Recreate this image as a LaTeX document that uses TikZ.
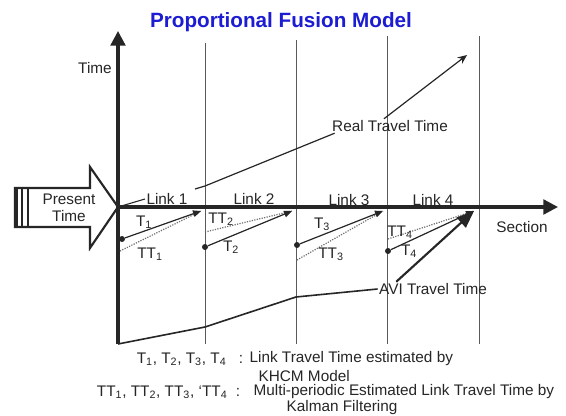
\documentclass[tikz,border=0pt]{standalone}
\usepackage{fontspec}
\setmainfont{Liberation Sans}
\usetikzlibrary{arrows.meta, calc}
\definecolor{titleblue}{HTML}{1C1CD2}
\definecolor{ink}{HTML}{262626}
\definecolor{gridgray}{HTML}{5A5A5A}
\definecolor{dotgray}{HTML}{6E6E6E}
\newcommand{\tsub}[1]{T\textsubscript{#1}}
\newcommand{\ttsub}[1]{TT\textsubscript{#1}}

\begin{document}
\begin{tikzpicture}[x=0.75pt, y=-0.75pt,
  >={Triangle[length=11pt, width=11pt]},
  lbl/.style={font=\fontsize{11.5}{12.8}\selectfont, text=ink, inner sep=1pt},
  secline/.style={gridgray, line width=0.7pt},
  tline/.style={ink, line width=0.9pt, -{Triangle[length=6pt, width=5pt]}},
  ttline/.style={dotgray, line width=0.9pt, densely dotted},
  startdot/.style={circle, fill=ink, inner sep=0pt, minimum size=4.5pt}]

% Canvas
\fill[white] (0,0) rectangle (566,416);
\useasboundingbox (0,0) rectangle (566,416);

% Title
\node[font=\fontsize{15.5}{18}\selectfont\bfseries, text=titleblue] (title) at (281,22)
  {Proportional Fusion Model};

% Section boundaries
\foreach \x/\t in {205/43, 296/40, 387/36, 479/36}
  \draw[secline] (\x,\t) -- (\x,344);

% Axes
\coordinate (O) at (118,207);
\coordinate (tbot) at (118,344);
\coordinate (ttop) at (118,31);
\coordinate (send) at (558,207);
\draw[->, ink, line width=2.4pt] (tbot) -- (ttop);
\draw[->, ink, line width=2.4pt] (O) -- (send);
\node[lbl] (time) at (95,68) {Time};
\node[lbl] (section) at (522,227) {Section};

% Present time arrow
\draw[ink, line width=1.6pt, line join=miter] (15,188) -- (90,188) -- (90,167) -- (O)
  -- (90,248) -- (90,227) -- (15,227) -- cycle;
\draw[ink, line width=1.6pt] (17,188) -- (17,227);
\draw[ink, line width=1.0pt] (22,188) -- (22,227);
\draw[ink, line width=1.6pt] (28,188) -- (28,227);
\node[lbl, align=center] (present) at (69,208) {Present\\Time};

% Link labels
\node[lbl] (link1) at (167,199) {Link 1};
\node[lbl] (link2) at (254,199) {Link 2};
\node[lbl] (link3) at (349,200) {Link 3};
\node[lbl] (link4) at (433,200) {Link 4};
\draw[ink, line width=0.8pt] (O) -- (link1.west);

% Link ends on the section axis
\coordinate (j1) at (201,211);
\coordinate (j2) at (292,211);
\coordinate (j3) at (383,211);
\coordinate (j4) at (474,211);

% KHCM estimates T (solid) and Kalman estimates TT (dotted)
\node[startdot] (d1) at (122,239) {};
\node[startdot] (d2) at (205,247) {};
\node[startdot] (d3) at (297,245) {};
\node[startdot] (d4) at (388,251) {};
\coordinate (s1) at (120,251);
\coordinate (s2) at (205,232);
\coordinate (s3) at (297,260);
\coordinate (s4) at (388,239);
\draw[ttline] (s1) -- (j1);
\draw[ttline] (s2) -- (j2);
\draw[ttline] (s3) -- (j3);
\draw[ttline] (s4) -- (j4);
\draw[tline] (d1) -- (j1);
\draw[tline] (d2) -- (j2);
\draw[tline] (d3) -- (j3);
\draw[tline] (d4) -- (j4);

\node[lbl] (t1) at (144,222) {\tsub1};
\node[lbl] (tt1) at (150,254) {\ttsub1};
\node[lbl] (tt2) at (221,219) {\ttsub2};
\node[lbl] (t2) at (231,247) {\tsub2};
\node[lbl] (t3) at (322,224) {\tsub3};
\node[lbl] (tt3) at (331,254) {\ttsub3};
\node[lbl] (tt4) at (400,232) {\ttsub4};
\node[lbl] (t4) at (409,251) {\tsub4};

% Real travel time
\node[lbl] (real) at (390,126) {Real Travel Time};
\coordinate (r0) at (195,189);
\coordinate (r1) at (205,186);
\coordinate (rtip) at (467,55);
\draw[ink, line width=0.9pt] (r0) -- (r1) -- ([xshift=3pt]real.south west);
\draw[ink, line width=0.9pt, -{Stealth[length=7pt, width=6pt]}]
  ([xshift=40pt]real.north west) -- (rtip);

% AVI travel time
\node[lbl] (avi) at (433,289) {AVI Travel Time};
\draw[ink, line width=1.2pt] (tbot) -- (205,327) -- (296,297) -- (avi.west);
\draw[ink, line width=1.6pt, -{Triangle[length=13pt, width=10pt]}]
  ([xshift=14pt]avi.north west) -- (j4);

% Legend
\node[lbl, anchor=east] (leg1) at (228,359) {\tsub1, \tsub2, \tsub3, \tsub4};
\node[lbl] (col1) at (241,359) {:};
\node[lbl, anchor=west] (txt1) at (248,359) {Link Travel Time estimated by};
\node[lbl, anchor=west] (txt2) at (257,376) {KHCM Model};
\node[lbl, anchor=east] (leg2) at (229,392) {\ttsub1, \ttsub2, \ttsub3, `\ttsub4};
\node[lbl] (col2) at (238,392) {:};
\node[lbl, anchor=west] (txt3) at (252,392) {Multi-periodic Estimated Link Travel Time by};
\node[lbl, anchor=west] (txt4) at (285,408) {Kalman Filtering};

\end{tikzpicture}
\end{document}
